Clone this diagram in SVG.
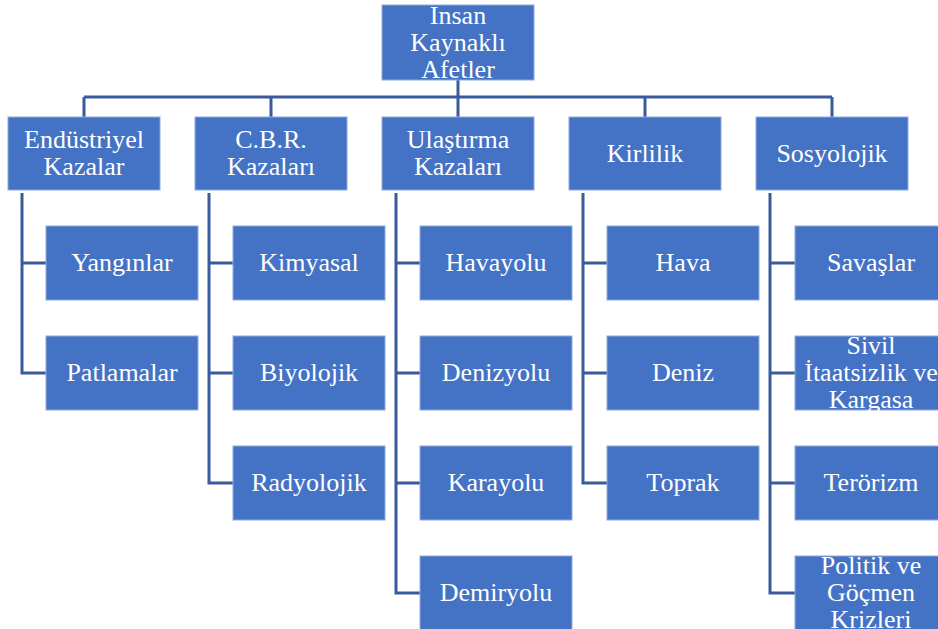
<svg xmlns="http://www.w3.org/2000/svg" width="938" height="629" viewBox="0 0 938 629">
<style>
.n{fill:#4472C4;stroke:#8FAADC;stroke-width:1}
.t{font-family:"Liberation Serif","Times New Roman",serif;font-size:26px;fill:#fff;text-anchor:middle}
.c{fill:none;stroke:#3B5A9A;stroke-width:3}
</style>
<rect width="938" height="629" fill="#fff"/>
<g id="connectors">
<path class="c" d="M458 80V97M84 97H832M84 97V117M271 97V117M458 97V117M645 97V117M832 97V117"/>
<path class="c" d="M22 193V373H46M22 263H46"/>
<path class="c" d="M209 193V483H233M209 263H233M209 373H233"/>
<path class="c" d="M396 193V593H420M396 263H420M396 373H420M396 483H420"/>
<path class="c" d="M583 193V483H607M583 263H607M583 373H607"/>
<path class="c" d="M770 193V593H795M770 263H795M770 373H795M770 483H795"/>
</g>
<g id="root"><rect class="n" x="382" y="5" width="152" height="75"/><text class="t" x="458" y="24">Insan</text><text class="t" x="458" y="51">Kaynaklı</text><text class="t" x="458" y="78">Afetler</text></g>
<g id="endustriyel"><rect class="n" x="8" y="117" width="152" height="73"/><text class="t" x="84" y="148">Endüstriyel</text><text class="t" x="84" y="174.5">Kazalar</text></g>
<g id="cbr"><rect class="n" x="195" y="117" width="152" height="73"/><text class="t" x="271" y="148">C.B.R.</text><text class="t" x="271" y="174.5">Kazaları</text></g>
<g id="ulastirma"><rect class="n" x="382" y="117" width="152" height="73"/><text class="t" x="458" y="148">Ulaştırma</text><text class="t" x="458" y="174.5">Kazaları</text></g>
<g id="kirlilik"><rect class="n" x="569" y="117" width="152" height="73"/><text class="t" x="645" y="162">Kirlilik</text></g>
<g id="sosyolojik"><rect class="n" x="756" y="117" width="152" height="73"/><text class="t" x="832" y="162">Sosyolojik</text></g>
<g id="yanginlar"><rect class="n" x="46" y="226" width="152" height="74"/><text class="t" x="122" y="271">Yangınlar</text></g>
<g id="patlamalar"><rect class="n" x="46" y="336" width="152" height="74"/><text class="t" x="122" y="381">Patlamalar</text></g>
<g id="kimyasal"><rect class="n" x="233" y="226" width="152" height="74"/><text class="t" x="309" y="271">Kimyasal</text></g>
<g id="biyolojik"><rect class="n" x="233" y="336" width="152" height="74"/><text class="t" x="309" y="381">Biyolojik</text></g>
<g id="radyolojik"><rect class="n" x="233" y="446" width="152" height="74"/><text class="t" x="309" y="491">Radyolojik</text></g>
<g id="havayolu"><rect class="n" x="420" y="226" width="152" height="74"/><text class="t" x="496" y="271">Havayolu</text></g>
<g id="denizyolu"><rect class="n" x="420" y="336" width="152" height="74"/><text class="t" x="496" y="381">Denizyolu</text></g>
<g id="karayolu"><rect class="n" x="420" y="446" width="152" height="74"/><text class="t" x="496" y="491">Karayolu</text></g>
<g id="demiryolu"><rect class="n" x="420" y="556" width="152" height="74"/><text class="t" x="496" y="601">Demiryolu</text></g>
<g id="hava"><rect class="n" x="607" y="226" width="152" height="74"/><text class="t" x="683" y="271">Hava</text></g>
<g id="deniz"><rect class="n" x="607" y="336" width="152" height="74"/><text class="t" x="683" y="381">Deniz</text></g>
<g id="toprak"><rect class="n" x="607" y="446" width="152" height="74"/><text class="t" x="683" y="491">Toprak</text></g>
<g id="savaslar"><rect class="n" x="795" y="226" width="152" height="74"/><text class="t" x="871" y="271">Savaşlar</text></g>
<g id="sivil"><rect class="n" x="795" y="336" width="152" height="74"/><text class="t" x="871" y="354">Sivil</text><text class="t" x="871" y="381">İtaatsizlik ve</text><text class="t" x="871" y="408">Kargasa</text></g>
<g id="terorizm"><rect class="n" x="795" y="446" width="152" height="74"/><text class="t" x="871" y="491">Terörizm</text></g>
<g id="politik"><rect class="n" x="795" y="556" width="152" height="74"/><text class="t" x="871" y="574">Politik ve</text><text class="t" x="871" y="601">Göçmen</text><text class="t" x="871" y="628">Krizleri</text></g>
</svg>
